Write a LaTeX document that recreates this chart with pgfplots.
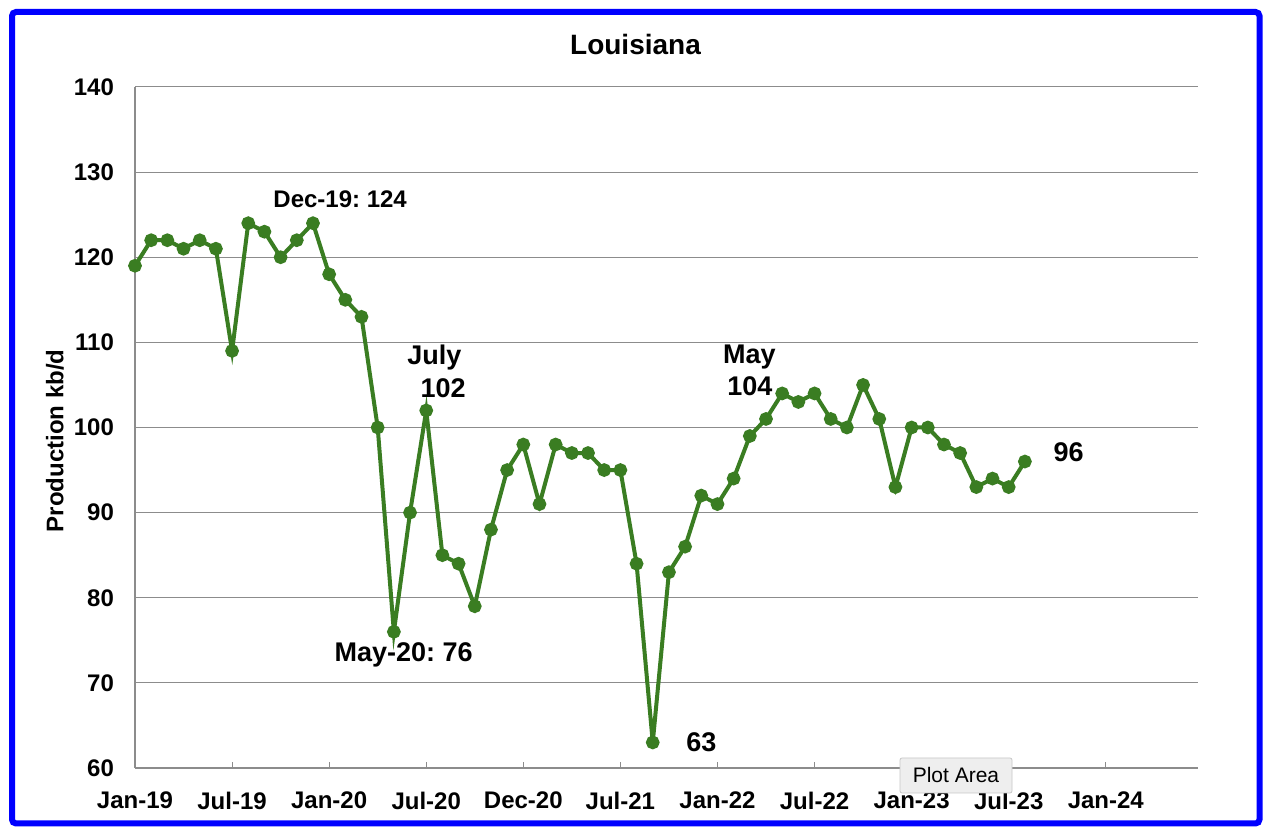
\documentclass[border=0pt]{standalone}
\usepackage{pgfplots}
\pgfplotsset{compat=1.18}
\usepackage{fontspec}
\setmainfont{Liberation Sans}
\frenchspacing
\definecolor{lagreen}{RGB}{58,125,34}
\definecolor{gridgray}{RGB}{140,140,140}
\definecolor{framblue}{RGB}{0,0,255}

\pgfplotstableread{
m   prod
0   119
1   122
2   122
3   121
4   122
5   121
6   109
7   124
8   123
9   120
10  122
11  124
12  118
13  115
14  113
15  100
16  76
17  90
18  102
19  85
20  84
21  79
22  88
23  95
24  98
25  91
26  98
27  97
28  97
29  95
30  95
31  84
32  63
33  83
34  86
35  92
36  91
37  94
38  99
39  101
40  104
41  103
42  104
43  101
44  100
45  105
46  101
47  93
48  100
49  100
50  98
51  97
52  93
53  94
54  93
55  96
}\louisiana

\begin{document}
\begin{tikzpicture}[x=0.5pt, y=0.5pt]
  % picture measured in reference pixels, y up from the bottom edge
  \fill[white] (0,0) rectangle (1274,838);
  \useasboundingbox (0,0) rectangle (1274,838);

  \begin{axis}[
      at={(67.5pt,35pt)}, anchor=south west,
      scale only axis,
      width=531.5pt, height=340.5pt,
      xmin=0, xmax=65.7,
      ymin=60, ymax=140,
      ytick={60,70,...,140},
      xtick={0,6,...,60},
      xticklabels={Jan-19,Jul-19,Jan-20,Jul-20,Dec-20,Jul-21,Jan-22,Jul-22,Jan-23,Jul-23,Jan-24},
      axis x line*=bottom, axis y line*=left,
      axis line style={-, draw=gridgray, line width=0.6pt},
      ymajorgrids,
      major grid style={draw=gridgray, line width=0.5pt},
      tick align=inside,
      major tick length=3pt,
      xtick style={draw=gridgray, line width=0.5pt},
      ytick style={draw=none},
      tick label style={font=\bfseries\fontsize{12}{14}\selectfont},
      /pgf/number format/assume math mode=true,
      xticklabel style={yshift=-8.5pt},
      yticklabel style={xshift=-7pt},
      clip=false,
    ]
    \addplot[color=lagreen, line width=2pt, mark=*,
             mark options={fill=lagreen, draw=lagreen, scale=1.2}]
      table[x=m, y=prod] {\louisiana};

    \node[font=\bfseries\fontsize{12}{14}\selectfont] at (axis cs:12.68,126.8) {Dec-19: 124};
    \node[font=\bfseries\fontsize{13.5}{16}\selectfont] at (axis cs:18.5,108.2) {July};
    \node[font=\bfseries\fontsize{13.5}{16}\selectfont] at (axis cs:19.05,104.6) {102};
    \node[font=\bfseries\fontsize{13.5}{16}\selectfont] at (axis cs:16.6,73.3) {May-20: 76};
    \node[font=\bfseries\fontsize{13.5}{16}\selectfont] at (axis cs:35.0,63.0) {63};
    \node[font=\bfseries\fontsize{13.5}{16}\selectfont] at (axis cs:37.97,108.3) {May};
    \node[font=\bfseries\fontsize{13.5}{16}\selectfont] at (axis cs:38.0,104.8) {104};
    \node[font=\bfseries\fontsize{13.5}{16}\selectfont] at (axis cs:57.7,97.1) {96};
  \end{axis}

  \node[font=\bfseries\fontsize{14}{16}\selectfont] at (635.5,793) {Louisiana};
  \node[font=\bfseries\fontsize{12}{14}\selectfont, rotate=90] at (55,397) {Production kb/d};

  \node[draw={rgb,255:red,200;green,200;blue,200}, fill={rgb,255:red,238;green,238;blue,238},
        line width=0.4pt, rounded corners=1pt, minimum width=56pt, minimum height=17.5pt,
        inner sep=0pt, font=\fontsize{10.5}{12}\selectfont] at (956,62.5) {Plot Area};

  \draw[framblue, line width=3pt, rounded corners=2pt] (12,14.5) rectangle (1259.5,826);
\end{tikzpicture}
\end{document}
